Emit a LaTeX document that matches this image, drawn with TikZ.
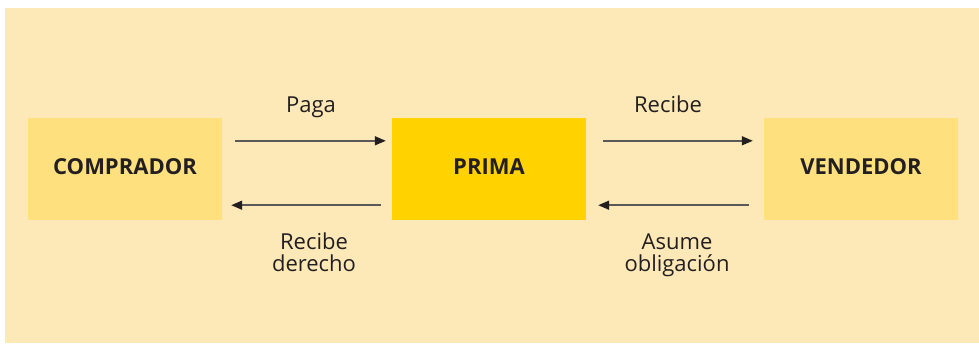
\documentclass[tikz,border=0pt]{standalone}
\usepackage{fontspec}
\setmainfont{Open Sans}
\usepackage{tikz}
\usetikzlibrary{arrows.meta}
\definecolor{fondo}{HTML}{FDE9B7}
\definecolor{lateral}{HTML}{FFE07F}
\definecolor{central}{HTML}{FFD200}
\definecolor{tinta}{HTML}{231F20}
\definecolor{linea}{HTML}{5A5858}

\begin{document}
\begin{tikzpicture}[x=1pt,y=1pt]
\tikzstyle{every node}+=[inner sep=0pt,text=tinta,font=\fontsize{22}{22.3}\selectfont]
\tikzstyle{caja}=[minimum width=194pt,minimum height=102pt,text depth=5pt,font=\fontsize{22}{22.3}\selectfont\bfseries]
\tikzstyle{flecha}=[draw=linea,line width=1.5pt,-{Triangle[length=11pt,width=9pt,color=tinta]}]
\useasboundingbox (0,0) rectangle (979,-343);
\fill [fondo] (5,-8) rectangle (979,-343);
\node [caja,fill=lateral] (comprador) at (125,-169) {COMPRADOR};
\node [caja,fill=central] (prima) at (489,-169) {PRIMA};
\node [caja,fill=lateral] (vendedor) at (861,-169) {VENDEDOR};
\draw [flecha] ([shift={(13,-23)}]comprador.north east) -- ([shift={(-6,-23)}]prima.north west);
\draw [flecha] ([shift={(-11,15)}]prima.south west) -- ([shift={(9,15)}]comprador.south east);
\draw [flecha] ([shift={(17,-23)}]prima.north east) -- ([shift={(-11,-23)}]vendedor.north west);
\draw [flecha] ([shift={(-15,15)}]vendedor.south west) -- ([shift={(12,15)}]prima.south east);
\node [anchor=base] (paga) at (311,-112) {Paga};
\node [anchor=base] (recibe) at (668,-112) {Recibe};
\node [align=center] (derecho) at (314,-252.5) {Recibe\\derecho};
\node [align=center] (asume) at (677,-255.6) {Asume\\obligación};
\end{tikzpicture}
\end{document}
